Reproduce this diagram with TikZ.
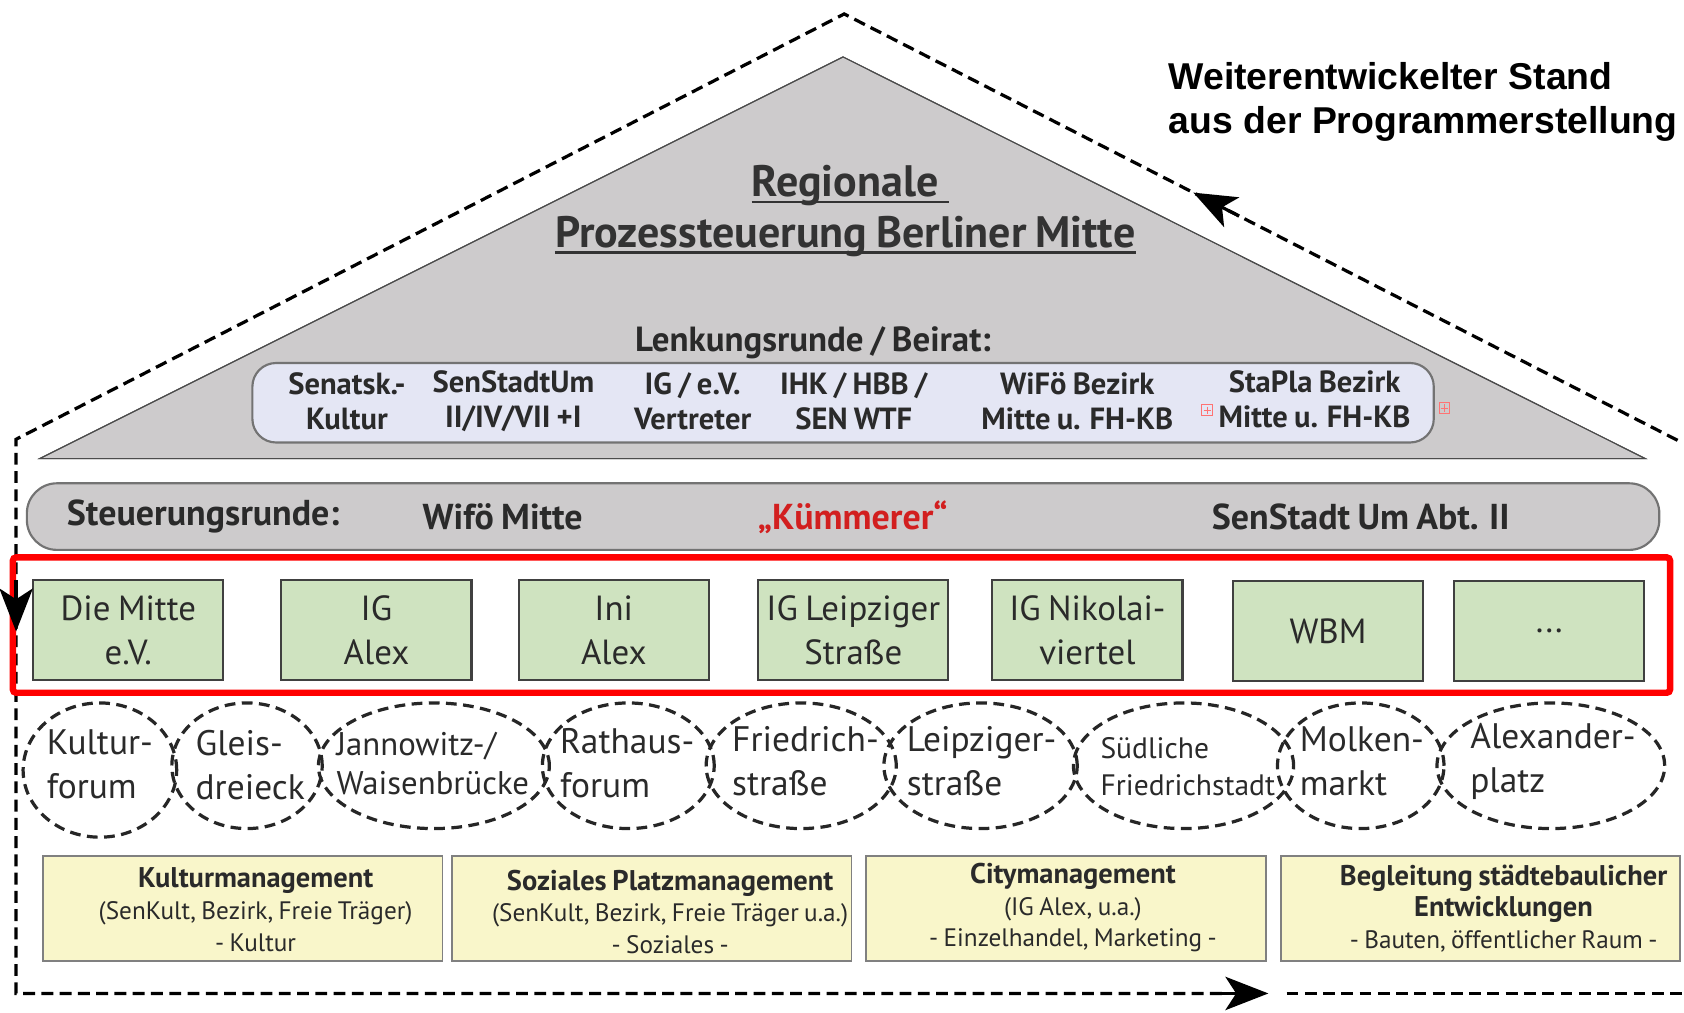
\documentclass[tikz,border=0pt]{standalone}
\usepackage{fontspec}
\setmainfont[WordSpace=0.8]{PT Sans}
\newfontfamily\arialfont{Liberation Sans}
\usetikzlibrary{arrows.meta,shapes.geometric,calc}
\definecolor{trigray}{HTML}{CDCBCC}
\definecolor{lav}{HTML}{E4E6F4}
\definecolor{grn}{HTML}{CFE3C0}
\definecolor{yel}{HTML}{F9F6CA}
\definecolor{txt}{HTML}{2A2A2A}
\definecolor{kred}{HTML}{D21F1F}
\newcommand\fsz[2]{\fontsize{#1pt}{#2pt}\selectfont}
\newcommand\yelheadfont{\fsz{26.5}{29.5}\bfseries}
\begin{document}
\begin{tikzpicture}[x=1pt,y=-1pt,
  tri/.style={fill=trigray, draw=black!70, line width=1pt},
  lenkbox/.style={draw=black!55, fill=lav, line width=2pt, rounded corners=22pt},
  steubar/.style={draw=black!55, fill=trigray, line width=2pt, rounded corners=28pt},
  redframe/.style={draw=red, line width=6pt, rounded corners=3pt},
  greenbox/.style={draw=black!75, fill=grn, line width=2pt, minimum width=177pt, minimum height=93pt, inner sep=0pt, align=center, font=\fsz{32.5}{41}, text=txt},
  area/.style={ellipse, draw=black!85, line width=3pt, dash pattern=on 10pt off 6pt, inner sep=0pt},
  areatext/.style={align=left, inner sep=0pt, font=\fsz{33}{41}, text=txt},
  yelbox/.style={draw=black!50, fill=yel, line width=1.5pt, minimum width=372pt, minimum height=98pt, inner sep=0pt},
  yeltext/.style={align=center, inner sep=0pt, font=\fsz{23.5}{29.5}, text=txt},
  lenktext/.style={align=center, inner sep=0pt, font=\fsz{28.5}{33}\bfseries, text=txt},
  steutext/.style={inner sep=0pt, font=\fsz{33.5}{38}\bfseries, text=txt},
  titletext/.style={inner sep=0pt, font=\fsz{41}{47}\bfseries, text=black!80},
  outer/.style={draw=black, line width=3pt, dash pattern=on 11pt off 6pt},
  tipstub/.style={line width=3pt, -{Stealth[length=40pt,width=31pt,inset=10pt]}},
  plusbox/.style={draw=red!55, line width=0.8pt, minimum size=10pt, inner sep=0pt}
]
\useasboundingbox (0,0) rectangle (1568,943);
% outer dashed cycle
\coordinate (apex) at (786,13);
\coordinate (lc) at (15,409);
\coordinate (rc) at (1562,410);
\coordinate (bl) at (15,925);
\coordinate (ba) at (1140,925);
\coordinate (bb) at (1198,925);
\coordinate (br) at (1568,925);
\draw[outer] (rc) -- (apex) -- (lc) -- (bl) -- (ba);
\draw[outer] (bb) -- (br);
% triangle
\coordinate (ta) at (785,53);
\coordinate (tl) at (37,427);
\coordinate (tr) at (1532,427);
\fill[tri] (tl) -- (ta) -- (tr) -- cycle;
\draw[tri, fill=none] (tl) -- (ta) -- (tr) -- cycle;
% title
\node[titletext, anchor=base] (t1) at (787,183) {Regionale};
\node[titletext, anchor=base] (t2) at (787,230) {Prozessteuerung Berliner Mitte};
\draw[line width=2.5pt, black!80] ([yshift=-5pt]t1.base west) -- ([yshift=-5pt,xshift=9pt]t1.base east);
\draw[line width=2.5pt, black!80] ([yshift=-5pt]t2.base west) -- ([yshift=-5pt]t2.base east);
% Lenkungsrunde
\node[inner sep=0pt, font=\fsz{32.5}{36}\bfseries, text=txt] (lk) at (757,319) {Lenkungsrunde / Beirat:};
\draw[lenkbox] (235,338) rectangle (1335,412);
\node[lenktext] (l1) at (323,373.5) {Senatsk.-\\Kultur};
\node[lenktext] (l2) at (478,373.5) {SenStadtUm\\II/IV/VII +I};
\node[lenktext] (l3) at (645,373.5) {IG / e.V.\\Vertreter};
\node[lenktext] (l4) at (795,373.5) {IHK / HBB /\\SEN WTF};
\node[lenktext] (l5) at (1003,373.5) {WiFö Bezirk\\Mitte u. FH-KB};
\node[lenktext] (l6) at (1224,372) {StaPla Bezirk\\Mitte u. FH-KB};
\node[plusbox] (p1) at (1124,382) {};
\node[plusbox] (p2) at (1345,380) {};
\foreach \p in {p1,p2}{
  \draw[red!55, line width=0.8pt] ([yshift=-2pt]\p.north) -- ([yshift=2pt]\p.south);
  \draw[red!55, line width=0.8pt] ([xshift=2pt]\p.west) -- ([xshift=-2pt]\p.east);
}
% Steuerungsrunde
\draw[steubar] (25,450) rectangle (1545,512);
\node[steutext] (s1) at (189,481) {Steuerungsrunde:};
\node[steutext] (s2) at (468,481) {Wifö Mitte};
\node[steutext, text=kred] (s3) at (794,482) {„Kümmerer“};
\node[steutext] (s4) at (1267,481) {SenStadt Um Abt. II};
% red frame
\draw[redframe] (12,519) rectangle (1555,645);
% green boxes
\node[greenbox] (g1) at (119.5,586.5) {Die Mitte\\e.V.};
\node[greenbox] (g2) at (350.5,586.5) {IG\\Alex};
\node[greenbox] (g3) at (571.5,586.5) {Ini\\Alex};
\node[greenbox] (g4) at (794.5,586.5) {IG Leipziger\\Straße};
\node[greenbox] (g5) at (1012.5,586.5) {IG Nikolai-\\viertel};
\node[greenbox] (g6) at (1236.5,587.5) {WBM};
\node[greenbox] (g7) at (1442.5,587.5) {...};
% areas
\node[area, minimum width=143pt, minimum height=125pt] (e1) at (93,717) {};
\node[area, minimum width=140pt, minimum height=117pt] (e2) at (230,713) {};
\node[area, minimum width=215pt, minimum height=117pt] (e3) at (404,713) {};
\node[area, minimum width=160pt, minimum height=117pt] (e4) at (585,713) {};
\node[area, minimum width=177pt, minimum height=117pt] (e5) at (746,713) {};
\node[area, minimum width=180pt, minimum height=117pt] (e6) at (913,713) {};
\node[area, minimum width=205pt, minimum height=117pt] (e7) at (1102,713) {};
\node[area, minimum width=155pt, minimum height=117pt] (e8) at (1267,713) {};
\node[area, minimum width=212pt, minimum height=117pt] (e9) at (1444,713) {};
\node[areatext] (a1) at (93,712) {Kultur-\\forum};
\node[areatext] (a2) at (233,712) {Gleis-\\dreieck};
\node[areatext, font=\fsz{30.5}{37}] (a3) at (403,711) {Jannowitz-/\\Waisenbrücke};
\node[areatext] (a4) at (584,711) {Rathaus-\\forum};
\node[areatext] (a5) at (750,709) {Friedrich-\\straße};
\node[areatext] (a6) at (914,709) {Leipziger-\\straße};
\node[areatext, font=\fsz{27.5}{35}] (a7) at (1106,714) {Südliche\\Friedrichstadt};
\node[areatext] (a8) at (1268,709) {Molken-\\markt};
\node[areatext] (a9) at (1446,709) {Alexander-\\platz};
% yellow boxes
\node[yelbox] (y1) at (226,846) {};
\node[yelbox] (y2) at (607,846) {};
\node[yelbox] (y3) at (992.5,846) {};
\node[yelbox] (y4) at (1378.5,846) {};
\node[yeltext] (yt1) at (238,847) {{\yelheadfont Kulturmanagement}\\(SenKult, Bezirk, Freie Träger)\\- Kultur};
\node[yeltext] (yt2) at (624,849) {{\yelheadfont Soziales Platzmanagement}\\(SenKult, Bezirk, Freie Träger u.a.)\\- Soziales -};
\node[yeltext] (yt3) at (999,845) {{\yelheadfont Citymanagement}\\(IG Alex, u.a.)\\- Einzelhandel, Marketing -};
\node[yeltext] (yt4) at (1400,846) {{\yelheadfont Begleitung städtebaulicher}\\{\yelheadfont Entwicklungen}\\- Bauten, öffentlicher Raum -};
% right label
\node[align=left, inner sep=0pt, anchor=west, font=\arialfont\bfseries\fsz{34.8}{41}] (wl) at (1088,95) {Weiterentwickelter Stand\\aus der Programmerstellung};
% arrow tips on the cycle
\coordinate (lt0) at (15,540);
\coordinate (lt1) at (15,588);
\draw[tipstub] (lt0) -- (lt1);
\coordinate (rt0) at ($(apex)!0.474!(rc)$);
\coordinate (rt1) at ($(apex)!0.419!(rc)$);
\draw[tipstub] (rt0) -- (rt1);
\coordinate (bt0) at (1133,925);
\coordinate (bt1) at (1181,925);
\draw[tipstub] (bt0) -- (bt1);
\end{tikzpicture}
\end{document}
